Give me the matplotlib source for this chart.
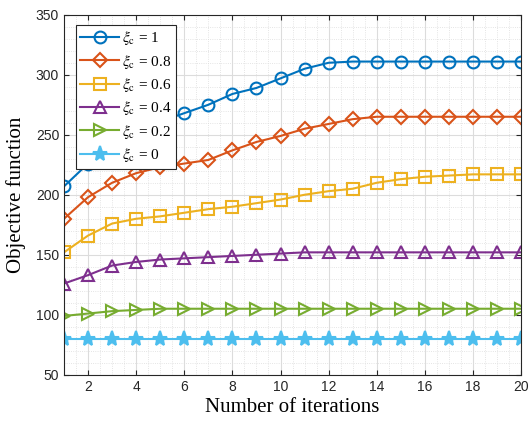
import matplotlib
matplotlib.use("Agg")
import matplotlib.pyplot as plt
from matplotlib.ticker import MultipleLocator

# Data
iterations = list(range(1, 21))
obj_xi_1 = [207, 226, 240, 251, 261, 268, 275, 284, 289, 297, 305, 310, 311, 311, 311, 311, 311, 311, 311, 311]
obj_xi_08 = [180, 198, 210, 218, 223, 226, 229, 237, 244, 249, 255, 259, 263, 265, 265, 265, 265, 265, 265, 265]
obj_xi_06 = [152, 166, 176, 180, 182, 185, 188, 190, 193, 196, 200, 203, 205, 210, 213, 215, 216, 217, 217, 217]
obj_xi_04 = [126, 133, 141, 144, 146, 147, 148, 149, 150, 151, 152, 152, 152, 152, 152, 152, 152, 152, 152, 152]
obj_xi_02 = [99, 101, 103, 104, 105, 105, 105, 105, 105, 105, 105, 105, 105, 105, 105, 105, 105, 105, 105, 105]
obj_xi_0 = [80] * 20

series = [
    (obj_xi_1, "1", "#0072BD", "o", "none"),
    (obj_xi_08, "0.8", "#D95319", "D", "none"),
    (obj_xi_06, "0.6", "#EDB120", "s", "none"),
    (obj_xi_04, "0.4", "#7E2F8E", "^", "none"),
    (obj_xi_02, "0.2", "#77AC30", ">", "none"),
    (obj_xi_0, "0", "#4DBEEE", "*", "#4DBEEE"),
]
marker_sizes = {"o": 8.5, "D": 7, "s": 8, "^": 8.5, ">": 8.5, "*": 11}

plt.rcParams['mathtext.fontset'] = 'stix'
plt.rcParams['font.family'] = 'Liberation Sans'

fig = plt.figure(figsize=(5.29, 4.22), dpi=100)
ax = fig.add_axes([0.121, 0.112, 0.864, 0.853])

for vals, lab, col, mk, fc in series:
    ax.plot(iterations, vals, color=col, marker=mk, markerfacecolor=fc,
            markeredgecolor=col, markersize=marker_sizes[mk], markeredgewidth=1.5, lw=1.5,
            label=r'$\xi_{\mathrm{c}}$ = ' + lab)

ax.set_xlim(1, 20)
ax.set_ylim(50, 350)
ax.xaxis.set_major_locator(MultipleLocator(2))
ax.xaxis.set_minor_locator(MultipleLocator(0.5))
ax.yaxis.set_major_locator(MultipleLocator(50))
ax.yaxis.set_minor_locator(MultipleLocator(10))

ax.grid(which='major', color='#dcdcdc', lw=0.8)
ax.grid(which='minor', color='#dcdcdc', lw=0.6, ls=':')
ax.set_axisbelow(True)
ax.tick_params(which='both', direction='in', top=True, right=True, labelsize=10,
               colors='#262626')
ax.tick_params(which='minor', length=0)
for s in ax.spines.values():
    s.set_color('#262626')

ax.set_xlabel('Number of iterations', family='Liberation Serif', fontsize=15, labelpad=3)
ax.set_ylabel('Objective function', family='Liberation Serif', fontsize=15, labelpad=7)

leg = ax.legend(loc='upper left', bbox_to_anchor=(0.026, 0.972), fancybox=False,
                edgecolor='#262626', framealpha=1, fontsize=11, handlelength=2.5,
                borderaxespad=0, borderpad=0.3, labelspacing=0.35, handletextpad=0.25)
leg.get_frame().set_linewidth(0.8)
for t in leg.get_texts():
    t.set_family('Liberation Serif')

fig.savefig('out.png', dpi=100)
